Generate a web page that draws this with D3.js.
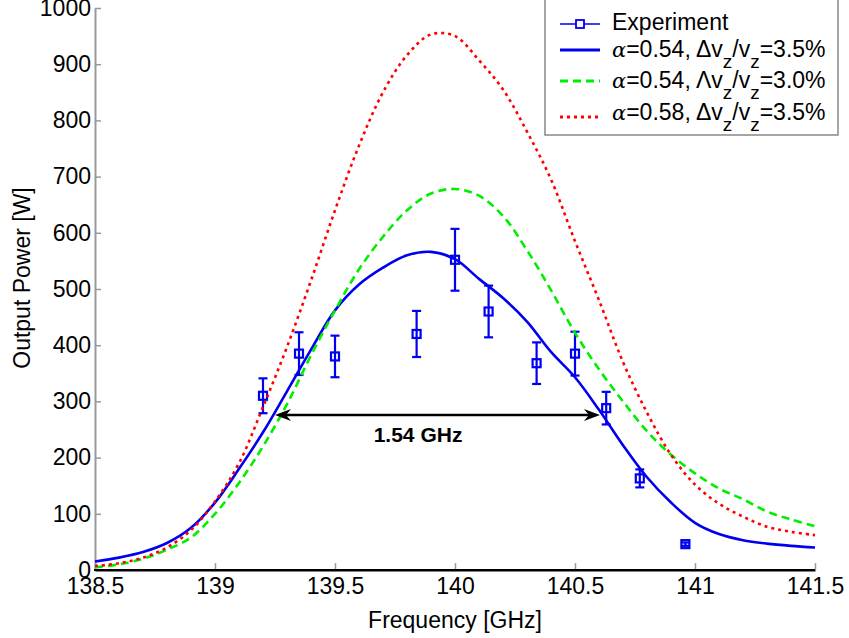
<!DOCTYPE html>
<html><head><meta charset="utf-8">
<script src="https://cdn.jsdelivr.net/npm/d3@7/dist/d3.min.js"></script>
<style>
body{margin:0;background:#fff}
text{font-family:"Liberation Sans",Arial,sans-serif;fill:#000}
</style>
</head><body>
<svg id="chart" width="849" height="638"></svg>
<script>
// ---------- data ----------
const freqGrid = [138.5,138.6,138.7,138.8,138.9,139.0,139.1,139.2,139.3,139.4,139.5,139.6,139.7,139.8,139.9,140.0,
                  140.1,140.2,140.3,140.4,140.5,140.6,140.7,140.8,140.9,141.0,141.1,141.2,141.3,141.4,141.5];
const blueSim  = [15,22,32,48,75,120,180,245,318,392,462,508,538,560,566,553,518,484,442,388,343,285,222,165,120,84,64,53,47,43,40];
const greenSim = [5,10,20,36,58,100,155,220,295,382,462,535,593,640,670,678,666,630,569,498,422,357,300,247,205,172,145,126,104,90,78];
const redSim   = [7,12,22,40,71,122,190,290,397,515,640,755,850,916,953,950,907,855,780,695,585,480,370,280,205,152,118,95,77,68,62];

const expFreq  = [139.2,139.35,139.5,139.84,140.0,140.14,140.34,140.5,140.63,140.77,140.96];
const expPower = [310,385,380,420,552,460,368,385,288,163,46];
const expErr   = [31,38,37,41,55,46,37,39,29,16,3];

const xTicks = [138.5,139,139.5,140,140.5,141,141.5];
const yTicks = [0,100,200,300,400,500,600,700,800,900,1000];

const arrowFreqs = [139.25,140.604];
const arrowPower = 276;
const bandLabel = "1.54 GHz";
const bandLabelFreq = 139.846, bandLabelPower = 228;

const legendLabels = [
  [{t:"Experiment"}],
  [{t:"α",g:1},{t:"=0.54, Δv"},{t:"z",s:1},{t:"/v"},{t:"z",s:1},{t:"=3.5%"}],
  [{t:"α",g:1},{t:"=0.54, Λv"},{t:"z",s:1},{t:"/v"},{t:"z",s:1},{t:"=3.0%"}],
  [{t:"α",g:1},{t:"=0.58, Δv"},{t:"z",s:1},{t:"/v"},{t:"z",s:1},{t:"=3.5%"}]
];

// ---------- drawing ----------
const svg = d3.select("#chart");
const x = d3.scaleLinear().domain([138.5,141.5]).range([95,815]);
const y = d3.scaleLinear().domain([0,1000]).range([570,8]);

// axes
const gx = svg.append("g").attr("transform","translate(0,570)")
  .call(d3.axisBottom(x).tickValues(xTicks).tickSize(-7).tickSizeOuter(0).tickPadding(8)
        .tickFormat(d=>String(d)));
gx.select(".domain").attr("stroke","#000").attr("stroke-width",2);
gx.selectAll(".tick line").attr("stroke","#999").attr("stroke-width",1.5);
gx.selectAll(".tick text").style("font-size","23px").attr("fill","#000");

const gy = svg.append("g").attr("transform","translate(95,0)")
  .call(d3.axisLeft(y).tickValues(yTicks).tickSize(-6).tickSizeOuter(0).tickPadding(4)
        .tickFormat(d3.format("d")));
gy.select(".domain").attr("stroke","#999").attr("stroke-width",2);
gy.selectAll(".tick line").attr("stroke","#999").attr("stroke-width",1.5);
gy.selectAll(".tick text").style("font-size","23px").attr("fill","#000");
svg.append("line").attr("x1",x(138.5)-1).attr("x2",x(141.5)).attr("y1",y(0)).attr("y2",y(0))
  .attr("stroke","#000").attr("stroke-width",2);

// axis labels
svg.append("text").attr("x",(x(138.5)+x(141.5))/2).attr("y",628).attr("text-anchor","middle")
  .style("font-size","23px").text("Frequency [GHz]");
svg.append("text").attr("transform","translate(30,278) rotate(-90)").attr("text-anchor","middle")
  .style("font-size","23px").text("Output Power [W]");

// experiment with error bars
const eg = svg.append("g").attr("stroke","#0000ee").attr("fill","none").attr("stroke-width",2.2);
expFreq.forEach((f,i)=>{
  const cx = x(f), cy = y(expPower[i]);
  const top = y(expPower[i]+expErr[i]), bot = y(expPower[i]-expErr[i]);
  eg.append("line").attr("x1",cx).attr("x2",cx).attr("y1",top).attr("y2",bot);
  eg.append("line").attr("x1",cx-4.5).attr("x2",cx+4.5).attr("y1",top).attr("y2",top);
  eg.append("line").attr("x1",cx-4.5).attr("x2",cx+4.5).attr("y1",bot).attr("y2",bot);
  eg.append("rect").attr("x",cx-4).attr("y",cy-4).attr("width",8).attr("height",8);
});

// simulation lines
const series = [
  {v:blueSim, c:"#0000ee", dash:null, w:2.6},
  {v:greenSim, c:"#00ee00", dash:"8,5", w:2.6},
  {v:redSim, c:"#ff0000", dash:"3,4", w:2.6}
];
const line = d3.line().curve(d3.curveCatmullRom.alpha(0.5));
series.forEach(s=>{
  svg.append("path").attr("d", line(freqGrid.map((f,i)=>[x(f), y(s.v[i])])))
    .attr("fill","none").attr("stroke",s.c).attr("stroke-width",s.w)
    .attr("stroke-dasharray",s.dash);
});

// bandwidth arrow
const ax1 = x(arrowFreqs[0]), ax2 = x(arrowFreqs[1]), ay = y(arrowPower);
svg.append("line").attr("x1",ax1+4).attr("x2",ax2-4).attr("y1",ay).attr("y2",ay)
  .attr("stroke","#000").attr("stroke-width",2.5);
function head(tipX, dir){
  svg.append("path").attr("d",`M${tipX},${ay} L${tipX+dir*16},${ay-6} L${tipX+dir*11},${ay} L${tipX+dir*16},${ay+6} Z`)
    .attr("fill","#000");
}
head(ax1, 1); head(ax2, -1);
svg.append("text").attr("x",x(bandLabelFreq)).attr("y",y(bandLabelPower)).attr("text-anchor","middle")
  .style("font-size","21px").style("font-weight","bold").text(bandLabel);

// legend
const lg = svg.append("g");
lg.append("rect").attr("x",545).attr("y",-1).attr("width",293).attr("height",136)
  .attr("fill","#fff").attr("stroke","#888").attr("stroke-width",1.5);
const sampleY = [24,50,81,117];
const textY = [30,57,88,120];
const legStyles = [
  {c:"#0000ee", dash:null, marker:true},
  {c:"#0000ee", dash:null},
  {c:"#00ee00", dash:"8,5"},
  {c:"#ff0000", dash:"3,4"}
];
legStyles.forEach((st,i)=>{
  lg.append("line").attr("x1",560).attr("x2",600).attr("y1",sampleY[i]).attr("y2",sampleY[i])
    .attr("stroke",st.c).attr("stroke-width",i===0?1.5:2.8).attr("stroke-dasharray",st.dash);
  if(st.marker) lg.append("rect").attr("x",576).attr("y",sampleY[i]-4).attr("width",8).attr("height",8)
    .attr("fill","#fff").attr("stroke",st.c).attr("stroke-width",1.8);
  const t = lg.append("text").attr("x",612).attr("y",textY[i]).style("font-size","23px");
  let sub = false;
  legendLabels[i].forEach(p=>{
    const ts = t.append("tspan").text(p.t);
    if(p.g) ts.style("font-family","'DejaVu Serif',serif").style("font-style","italic").style("font-size","21px");
    if(p.s) { ts.attr("dy",11).style("font-size","19px"); sub = true; }
    else if (sub) { ts.attr("dy",-11); sub = false; }
  });
});
</script>
</body></html>
